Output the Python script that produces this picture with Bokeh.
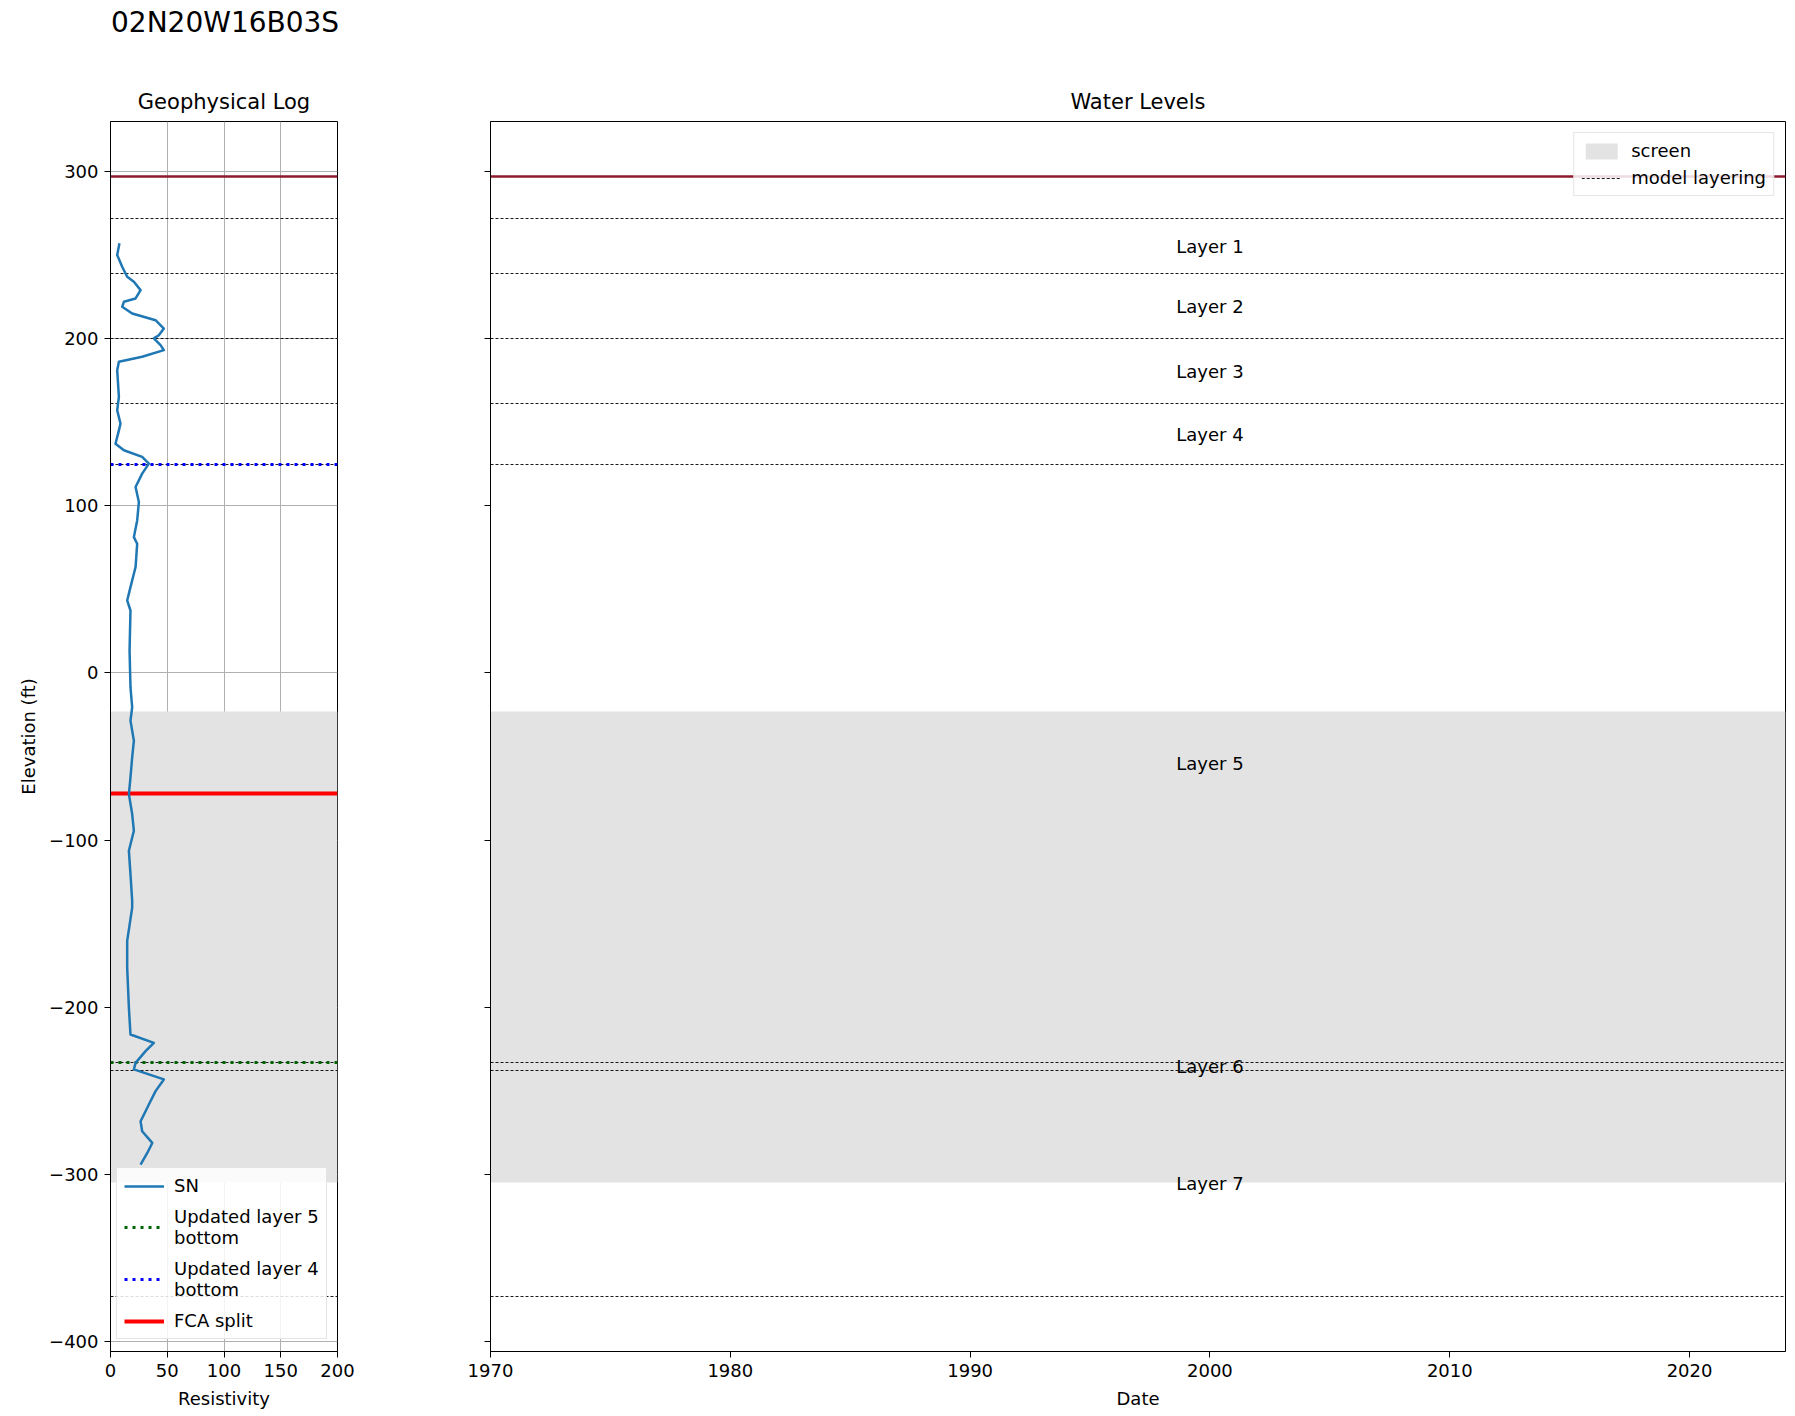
import datetime as dt
from bokeh.plotting import figure
from bokeh.layouts import row, column
from bokeh.models import (Range1d, Title, Legend, LegendItem, FixedTicker, Div,
                          CustomJSTickFormatter, ColumnDataSource)
from bokeh.embed import file_html
from bokeh.resources import INLINE
from bokeh.core.properties import value

FONT = "DejaVu Sans"

# ---------------- data ----------------
well_name = "02N20W16B03S"

sn_elev = [257.1, 250.1, 243.1, 237.1, 234.1, 229.1, 224.1, 222.1, 219.1, 215.1,
           211.1, 206.1, 202.1, 200.2, 196.2, 193.2, 189.2, 186.2, 181.2, 165.2,
           157.2, 149.2, 145.2, 137.2, 133.3, 129.3, 125.3, 119.3, 111.3, 102.3,
           91.3, 81.3, 77.3, 63.4, 51.4, 43.4, 37.4, 13.4, -8.5, -20.5, -28.5,
           -40.5, -50.5, -62.5, -72.5, -84.4, -94.4, -106.4, -120.4, -136.4,
           -140.4, -160.3, -176.3, -200.3, -216.3, -221.3, -226.3, -233.3, -237.2,
           -243.2, -250.2, -258.2, -262.2, -268.2, -274.2, -281.2, -287.2, -294.2]
sn_res = [7.9, 5.9, 10.3, 14.7, 20.6, 26.5, 22.1, 11.8, 10.3, 19.1,
          39.7, 47.0, 42.6, 38.2, 44.1, 47.0, 27.9, 7.4, 5.9, 7.4,
          5.9, 8.8, 7.4, 4.4, 11.8, 27.9, 33.8, 27.9, 22.1, 25.0,
          23.5, 20.6, 23.5, 22.1, 17.6, 14.7, 17.6, 16.8, 17.6, 19.1, 17.6,
          20.6, 19.1, 17.6, 16.2, 19.1, 20.6, 16.2, 17.6, 19.1,
          19.1, 14.7, 14.7, 16.2, 17.6, 38.2, 30.9, 22.1, 20.6,
          47.0, 39.7, 33.8, 30.9, 26.5, 27.9, 36.8, 32.4, 26.5]

ground_surface = [297]
layer_surfaces = [272, 239, 200, 161, 125, -233, -238, -373]
layer_names = ["Layer 1", "Layer 2", "Layer 3", "Layer 4", "Layer 5", "Layer 6", "Layer 7"]
screen_top = [-23]
screen_bottom = [-305]
updated_layer4_bottom = [125]
updated_layer5_bottom = [-233]
fca_split = [-72]

y_ticks = [-400, -300, -200, -100, 0, 100, 200, 300]
res_ticks = [0, 50, 100, 150, 200]
year_ticks = [1970, 1980, 1990, 2000, 2010, 2020]
label_year = 2000

y_limits = (-406, 330)
res_limits = (0, 200)
date_limits = (dt.datetime(1970, 1, 1), dt.datetime(2024, 1, 1))

HEAD_H = 42
FIG_H = 1369

# ---------------- helpers ----------------
minus_fmt = CustomJSTickFormatter(code="""
    return tick < 0 ? '\u2212' + Math.abs(tick) : '' + tick;
""")
year_fmt = CustomJSTickFormatter(code="""
    return '' + new Date(tick).getUTCFullYear();
""")


def style(p):
    p.outline_line_color = "black"
    p.outline_line_width = 1
    p.outline_line_alpha = 1
    p.background_fill_color = "white"
    p.border_fill_color = "white"
    for ax in p.axis:
        ax.axis_line_color = "black"
        ax.major_tick_line_color = "black"
        ax.minor_tick_line_color = None
        ax.major_tick_out = 6
        ax.major_tick_in = 0
        ax.major_label_text_font = FONT
        ax.major_label_text_font_size = "18px"
        ax.major_label_text_color = "black"
        ax.major_label_standoff = 6
        ax.axis_label_text_font = FONT
        ax.axis_label_text_font_size = "18px"
        ax.axis_label_text_font_style = "normal"
        ax.axis_label_text_color = "black"
        ax.axis_label_standoff = 8


def style_legend(lg, spacing, line_height):
    lg.label_text_font = FONT
    lg.label_text_font_size = "18px"
    lg.label_text_color = "black"
    lg.label_text_line_height = line_height
    lg.glyph_width = 40
    lg.glyph_height = 20
    lg.label_standoff = 10
    lg.padding = 7
    lg.spacing = spacing
    lg.border_line_color = "#cccccc"
    lg.border_line_width = 1
    lg.background_fill_color = "white"
    lg.background_fill_alpha = 0.85


mids = [(a + b) / 2 for a, b in zip(layer_surfaces[:-1], layer_surfaces[1:])]

# ---------------- heading ----------------
header = Div(text=well_name, width=1790, height=HEAD_H, margin=0,
             styles={"font-family": FONT, "font-size": "28px", "color": "black",
                     "line-height": "46px", "padding-left": "111px",
                     "white-space": "nowrap"})

# ---------------- left panel: geophysical log ----------------
left = figure(width=408, height=FIG_H, output_backend="svg", toolbar_location=None,
              x_range=Range1d(*res_limits), y_range=Range1d(*y_limits),
              min_border_left=110, min_border_right=71, min_border_top=121 - HEAD_H,
              min_border_bottom=60, title=None)
left.add_layout(Title(text="Geophysical Log", align="center", text_font=FONT,
                      text_font_size="21px", text_font_style="normal",
                      text_color="black", standoff=15), "above")

left.hstrip(y0=screen_top, y1=screen_bottom, fill_color="#e3e3e3", line_alpha=0)
left.hspan(y=layer_surfaces, line_color="black", line_width=0.9, line_dash="3 2")
left.hspan(y=ground_surface, line_color="#8e1a2e", line_width=2.5)
r_fca = left.hspan(y=fca_split, line_color="red", line_width=4)
r_l4 = left.hspan(y=updated_layer4_bottom, line_color="blue", line_width=3, line_dash="3 5")
r_l5 = left.hspan(y=updated_layer5_bottom, line_color="darkgreen", line_width=3, line_dash="3 5")
r_sn = left.line(x=sn_res, y=sn_elev, line_color="#1f77b4", line_width=2.5,
                 line_join="round")

left.xaxis.axis_label = "Resistivity"
left.yaxis.axis_label = "Elevation (ft)"
left.xaxis.ticker = FixedTicker(ticks=res_ticks)
left.yaxis.ticker = FixedTicker(ticks=y_ticks)
left.yaxis.formatter = minus_fmt
style(left)
left.yaxis.axis_label_standoff = 7
left.xgrid.ticker = FixedTicker(ticks=res_ticks)
left.ygrid.ticker = FixedTicker(ticks=y_ticks)
for g in (left.xgrid, left.ygrid):
    g.grid_line_color = "#b0b0b0"
    g.grid_line_width = 1

lg_left = Legend(items=[
    LegendItem(label="SN", renderers=[r_sn]),
    LegendItem(label="Updated layer 5\nbottom", renderers=[r_l5]),
    LegendItem(label="Updated layer 4\nbottom", renderers=[r_l4]),
    LegendItem(label="FCA split", renderers=[r_fca]),
], location=(6, 12), margin=0)
style_legend(lg_left, spacing=10, line_height=1.35)
left.add_layout(lg_left, "center")

# ---------------- right panel: water levels ----------------
right = figure(width=1382, height=FIG_H, output_backend="svg", toolbar_location=None,
               x_axis_type="datetime", x_range=Range1d(*date_limits),
               y_range=left.y_range,
               min_border_left=82, min_border_right=5, min_border_top=121 - HEAD_H,
               min_border_bottom=60)
right.title.text = "Water Levels"
right.title.align = "center"
right.title.text_font = FONT
right.title.text_font_size = "21px"
right.title.text_font_style = "normal"
right.title.text_color = "black"
right.title.standoff = 15

r_screen = right.hstrip(y0=screen_top, y1=screen_bottom, fill_color="#e3e3e3", line_alpha=0)
r_layers = right.hspan(y=layer_surfaces, line_color="black", line_width=0.9, line_dash="3 2")
right.hspan(y=ground_surface, line_color="#8e1a2e", line_width=2.5)

label_src = ColumnDataSource(dict(
    x=[dt.datetime(label_year, 1, 1)] * len(layer_names), y=mids, text=layer_names))
right.text(x="x", y="y", text="text", source=label_src, text_align="center",
           text_baseline="middle", text_font=value(FONT), text_font_size="18px",
           text_color="black")

right.xaxis.axis_label = "Date"
right.xaxis.ticker = FixedTicker(ticks=[dt.datetime(y, 1, 1, tzinfo=dt.timezone.utc).timestamp() * 1000
                                        for y in year_ticks])
right.xaxis.formatter = year_fmt
right.yaxis.ticker = FixedTicker(ticks=y_ticks)
style(right)
right.yaxis.major_label_text_font_size = "0px"
right.xgrid.grid_line_color = None
right.ygrid.grid_line_color = None

lg_right = Legend(items=[
    LegendItem(label="screen", renderers=[r_screen]),
    LegendItem(label="model layering", renderers=[r_layers]),
], location="top_right", margin=11)
style_legend(lg_right, spacing=6, line_height=1.3)
right.add_layout(lg_right, "center")

layout = column(header, row(left, right))
open("out.html", "w").write(file_html(layout, INLINE))
